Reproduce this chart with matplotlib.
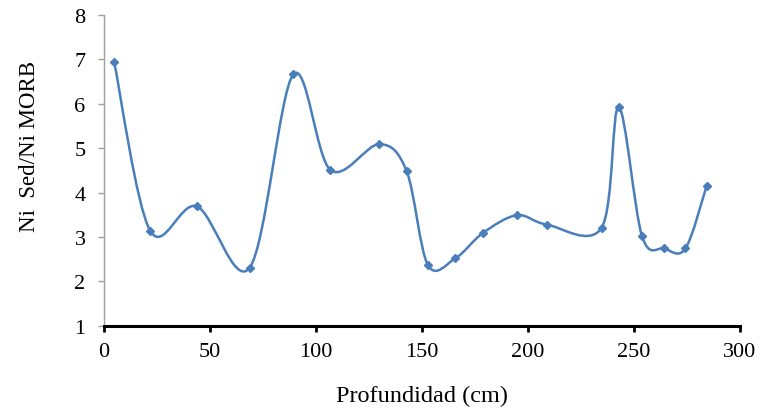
import numpy as np
import matplotlib.pyplot as plt
from matplotlib.path import Path
from matplotlib.patches import PathPatch

# Profundidad (cm) y razón Ni sedimento / Ni MORB
profundidad = [5, 22, 44, 69, 89.5, 107, 130, 143, 153, 166, 179, 195, 209, 235, 243, 254, 264.5, 274.5, 284.5]
ni_ratio = [6.95, 3.14, 3.69, 2.31, 6.66, 4.51, 5.09, 4.48, 2.37, 2.52, 3.09, 3.49, 3.28, 3.21, 5.93, 3.02, 2.74, 2.74, 4.15]

x_ticks = [0, 50, 100, 150, 200, 250, 300]
y_ticks = [1, 2, 3, 4, 5, 6, 7, 8]

color = "#4A7EBB"
plt.rcParams['font.family'] = ['Liberation Serif', 'DejaVu Serif']

fig = plt.figure(figsize=(7.66, 4.14), dpi=100)
ax = fig.add_axes([103.5 / 766, 1 - 326.7 / 414, 636 / 766, 310.7 / 414])


def smooth_path(xs, ys):
    # Bezier curve through every point (Catmull-Rom style control points)
    pts = np.column_stack([xs, ys]).astype(float)
    n = len(pts)
    verts = [pts[0]]
    codes = [Path.MOVETO]
    for i in range(n - 1):
        p0 = pts[i - 1] if i > 0 else pts[i]
        p1 = pts[i]
        p2 = pts[i + 1]
        p3 = pts[i + 2] if i + 2 < n else pts[i + 1]
        c1 = p1 + (p2 - p0) / 6
        c2 = p2 - (p3 - p1) / 6
        verts += [c1, c2, p2]
        codes += [Path.CURVE4] * 3
    return Path(verts, codes)


ax.add_patch(PathPatch(smooth_path(profundidad, ni_ratio), facecolor="none",
                       edgecolor=color, lw=1.8, capstyle="round"))
ax.plot(profundidad, ni_ratio, linestyle="none", marker="D", markersize=4.5,
        color=color, markeredgecolor=color)

ax.set_xlim(0, 300)
ax.set_ylim(1, 8)
ax.set_xticks(x_ticks)
ax.set_yticks(y_ticks)

for side in ("top", "right"):
    ax.spines[side].set_visible(False)
ax.spines["left"].set_color("#A0A0A0")
ax.spines["left"].set_linewidth(1)
ax.spines["bottom"].set_color("black")
ax.spines["bottom"].set_linewidth(2.2)

ax.tick_params(axis="y", direction="out", length=4.5, width=1, color="#A0A0A0",
               labelsize=16, pad=8.5)
ax.tick_params(axis="x", direction="out", length=4.5, width=2, color="black",
               labelsize=16, pad=7.5)

ax.set_xlabel("Profundidad (cm)", fontsize=17.5, va="center")
ax.xaxis.set_label_coords(0.5, -0.226)
ax.set_ylabel("Ni  Sed/Ni MORB", fontsize=16.5, va="center", ha="center")
ax.yaxis.set_label_coords(-0.1156, 0.5816)

fig.savefig("out.png", dpi=100)
